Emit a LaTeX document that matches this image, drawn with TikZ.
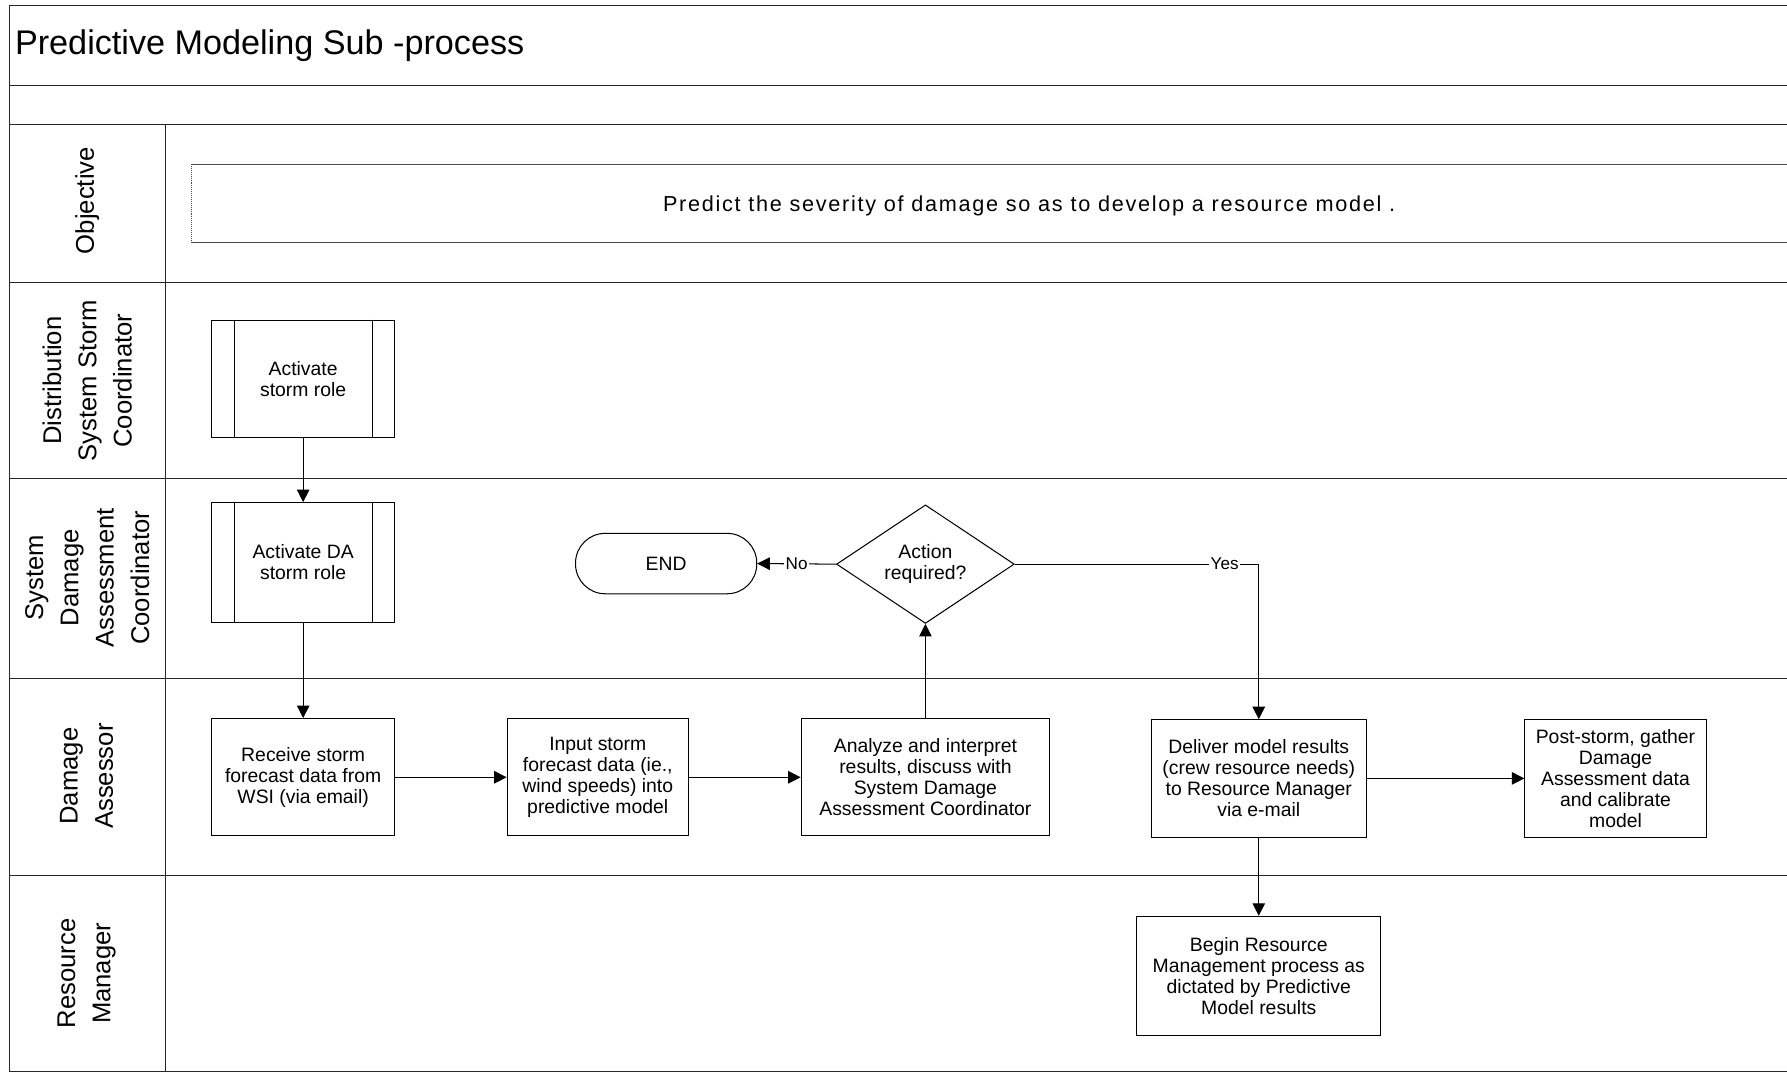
\documentclass[tikz,border=0pt]{standalone}
\usepackage{fontspec}
\setmainfont{Liberation Sans}
\newfontfamily\objfont[LetterSpace=7.9]{Liberation Sans}
\usetikzlibrary{arrows.meta,shapes.geometric}

\begin{document}
\begin{tikzpicture}[x=1pt,y=-1pt,
  lane/.style={line width=0.9pt,draw=black!85},
  task/.style={draw,line width=0.9pt,align=center,inner sep=0pt,
    font=\fontsize{17}{18.5}\selectfont},
  decision/.style={diamond,draw,line width=0.9pt,align=center,inner sep=0pt,
    aspect=1.5,minimum width=156pt,minimum height=104pt,
    font=\fontsize{17}{18.5}\selectfont},
  terminal/.style={draw,line width=0.9pt,rounded corners=26pt,inner sep=0pt,
    minimum width=159pt,minimum height=53pt,font=\fontsize{17}{18.5}\selectfont},
  lanelabel/.style={rotate=90,align=center,inner sep=0pt,
    font=\fontsize{22.5}{31}\selectfont},
  flow/.style={-{Triangle[length=11pt,width=11pt]},line width=0.9pt},
  flowlabel/.style={fill=white,inner sep=1.5pt,font=\fontsize{15}{16}\selectfont}
]
\useasboundingbox (0,0) rectangle (1568,944);

% frame and swimlanes
\draw[lane] (8,4.5) -- (1568,4.5);
\draw[lane] (8,4.5) -- (8,940) -- (1568,940);
\draw[lane] (8,75) -- (1568,75);
\draw[lane] (8,109) -- (1568,109);
\draw[lane] (8,248) -- (1568,248);
\draw[lane] (8,420) -- (1568,420);
\draw[lane] (8,595) -- (1568,595);
\draw[lane] (8,768) -- (1568,768);
\draw[lane] (145,109) -- (145,940);

% title
\node[anchor=base west,inner sep=0pt,font=\fontsize{30}{34}\selectfont] (title)
  at (13,48) {Predictive Modeling Sub -process};

% lane labels
\node[lanelabel] (lobj) at (76.5,176) {Objective};
\node[lanelabel] (ldssc) at (76.5,334) {Distribution\\System Storm\\Coordinator};
\node[lanelabel] (lsdac) at (76.5,507) {System\\Damage\\Assessment\\Coordinator};
\node[lanelabel] (lda) at (76,681) {Damage\\Assessor};
\node[lanelabel] (lrm) at (76,854) {Resource\\Manager};

% objective band
\draw[line width=0.7pt,draw=black!70] (1568,144) -- (168,144);
\draw[line width=0.7pt,draw=black!70] (168,213) -- (1568,213);
\draw[line width=0.7pt,draw=black!70,densely dotted] (168,144) -- (168,213);
\node[anchor=base,inner sep=0pt,font=\objfont\fontsize{19}{22}\selectfont] (objtext)
  at (903,186) {Predict the severity of damage so as to develop a resource model .};

% process steps
\node[task,minimum width=160pt,minimum height=103pt] (act) at (266,332.5) {Activate\\storm role};
\node[task,minimum width=160pt,minimum height=105pt] (actda) at (266,493.5) {Activate DA\\storm role};
\foreach \n in {act,actda}{
  \draw[line width=0.9pt] ([xshift=20pt]\n.north west) -- ([xshift=20pt]\n.south west);
  \draw[line width=0.9pt] ([xshift=-20pt]\n.north east) -- ([xshift=-20pt]\n.south east);
}
\node[task,minimum width=160pt,minimum height=103pt] (recv) at (266,682)
  {Receive storm\\forecast data from\\WSI (via email)};
\node[task,minimum width=159pt,minimum height=103pt] (input) at (524.5,682)
  {Input storm\\forecast data (ie.,\\wind speeds) into\\predictive model};
\node[task,minimum width=218pt,minimum height=103pt] (analyze) at (812,682)
  {Analyze and interpret\\results, discuss with\\System Damage\\Assessment Coordinator};
\node[task,minimum width=189pt,minimum height=103pt] (deliver) at (1104.5,683)
  {Deliver model results\\(crew resource needs)\\to Resource Manager\\via e-mail};
\node[task,minimum width=159pt,minimum height=104pt] (post) at (1417.5,683)
  {Post-storm, gather\\Damage\\Assessment data\\and calibrate\\model};
\node[task,minimum width=214pt,minimum height=105pt] (begin) at (1104.5,856.5)
  {Begin Resource\\Management process as\\dictated by Predictive\\Model results};
\node[terminal] (end) at (584.5,494.5) {END};
\node[decision] (action) at (812,495) {Action\\required?};

% connectors
\draw[flow] (act.south) -- (actda.north);
\draw[flow] (actda.south) -- (recv.north);
\draw[flow] (recv.east) -- (input.west);
\draw[flow] (input.east) -- (analyze.west);
\draw[flow] (analyze.north) -- (action.south);
\draw[flow] (action.west) -- node[flowlabel] {No} (end.east);
\draw[flow] (action.east) -| node[flowlabel,pos=0.43] {Yes} (deliver.north);
\draw[flow] (deliver.east) -- (post.west);
\draw[flow] (deliver.south) -- (begin.north);
\end{tikzpicture}
\end{document}
